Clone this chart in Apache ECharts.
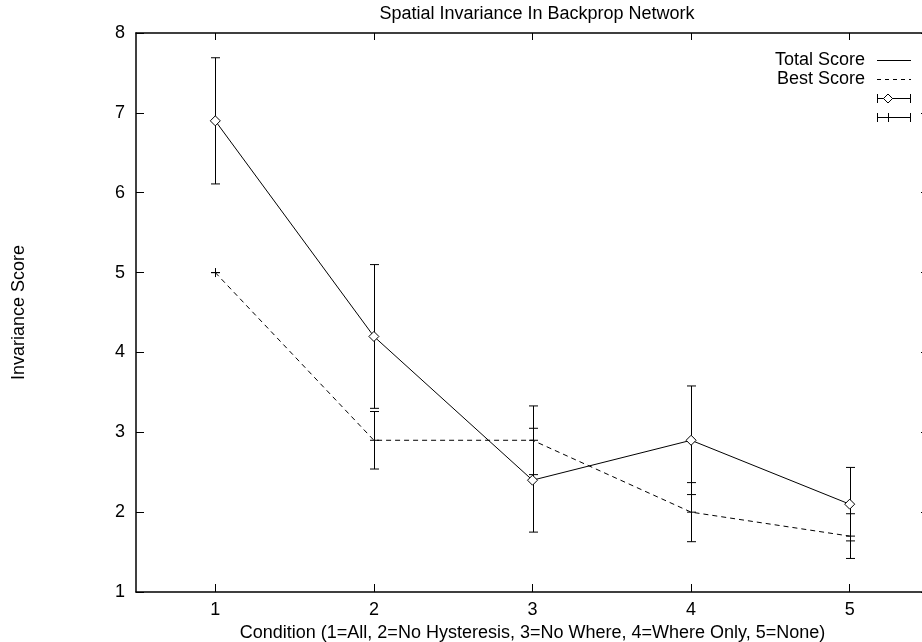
<!DOCTYPE html>
<html>
<head>
<meta charset="utf-8">
<script src="https://cdn.jsdelivr.net/npm/echarts@6/dist/echarts.min.js"></script>
<style>
  html, body { margin: 0; padding: 0; background: #fff; }
  #ErrorChartDom { width: 922px; height: 642px; }
</style>
</head>
<body>
<div id="ErrorChartDom"></div>
<script>
const conditions = ['1', '2', '3', '4', '5'];
const totalScore = [6.9, 4.2, 2.4, 2.9, 2.1];
const totalErr = [0.79, 0.9, 0.65, 0.68, 0.46];
const bestScore = [5.0, 2.9, 2.9, 2.0, 1.7];
const bestErr = [0, 0.36, 0.43, 0.37, 0.28];
const yTicks = [1, 2, 3, 4, 5, 6, 7, 8];

const font = "'Liberation Sans', Arial, Helvetica, sans-serif";

const errRows = (vals, errs) => vals.map((v, i) => [i, v - errs[i], v + errs[i], v]);

const renderErr = (withPlus) => (params, api) => {
  const hi = api.coord([api.value(0), api.value(2)]);
  const lo = api.coord([api.value(0), api.value(1)]);
  const mid = api.coord([api.value(0), api.value(3)]);
  const x = Math.round(hi[0]) + 0.5;
  const w = 4.5;
  const st = { stroke: '#000', lineWidth: 1 };
  const kids = [
    { type: 'line', shape: { x1: x, y1: hi[1], x2: x, y2: lo[1] }, style: st },
    { type: 'line', shape: { x1: x - w, y1: hi[1], x2: x + w, y2: hi[1] }, style: st },
    { type: 'line', shape: { x1: x - w, y1: lo[1], x2: x + w, y2: lo[1] }, style: st }
  ];
  if (withPlus) {
    kids.push({ type: 'line', shape: { x1: x - w, y1: mid[1], x2: x + w, y2: mid[1] }, style: st });
    kids.push({ type: 'line', shape: { x1: x, y1: mid[1] - w, x2: x, y2: mid[1] + w }, style: st });
  }
  return { type: 'group', children: kids };
};

// legend samples, gnuplot style (text left, sample right)
const lx1 = 877, lx2 = 911, lrow = [60, 79, 98, 117];
const legendGraphic = [
  { type: 'text', x: 865, y: lrow[0], style: { text: 'Total Score', font: '18px ' + font, fill: '#000', align: 'right', verticalAlign: 'middle' } },
  { type: 'line', shape: { x1: lx1, y1: lrow[0] + 0.5, x2: lx2, y2: lrow[0] + 0.5 }, style: { stroke: '#000', lineWidth: 1 } },
  { type: 'text', x: 865, y: lrow[1], style: { text: 'Best Score', font: '18px ' + font, fill: '#000', align: 'right', verticalAlign: 'middle' } },
  { type: 'line', shape: { x1: lx1, y1: lrow[1] + 0.5, x2: lx2, y2: lrow[1] + 0.5 }, style: { stroke: '#000', lineWidth: 1, lineDash: [4, 4] } },
  { type: 'line', shape: { x1: lx1, y1: lrow[2] + 0.5, x2: lx2, y2: lrow[2] + 0.5 }, style: { stroke: '#000', lineWidth: 1 } },
  { type: 'line', shape: { x1: lx1 + 0.5, y1: lrow[2] - 4, x2: lx1 + 0.5, y2: lrow[2] + 5 }, style: { stroke: '#000', lineWidth: 1 } },
  { type: 'line', shape: { x1: lx2 - 0.5, y1: lrow[2] - 4, x2: lx2 - 0.5, y2: lrow[2] + 5 }, style: { stroke: '#000', lineWidth: 1 } },
  { type: 'polygon', shape: { points: [[888, lrow[2] - 4], [892.5, lrow[2] + 0.5], [888, lrow[2] + 5], [883.5, lrow[2] + 0.5]] }, style: { fill: '#fff', stroke: '#000', lineWidth: 1 } },
  { type: 'line', shape: { x1: lx1, y1: lrow[3] + 0.5, x2: lx2, y2: lrow[3] + 0.5 }, style: { stroke: '#000', lineWidth: 1 } },
  { type: 'line', shape: { x1: lx1 + 0.5, y1: lrow[3] - 4, x2: lx1 + 0.5, y2: lrow[3] + 5 }, style: { stroke: '#000', lineWidth: 1 } },
  { type: 'line', shape: { x1: lx2 - 0.5, y1: lrow[3] - 4, x2: lx2 - 0.5, y2: lrow[3] + 5 }, style: { stroke: '#000', lineWidth: 1 } },
  { type: 'line', shape: { x1: 888.5, y1: lrow[3] - 4, x2: 888.5, y2: lrow[3] + 5 }, style: { stroke: '#000', lineWidth: 1 } }
];

const axisLineStyle = { show: true, lineStyle: { color: '#000', width: 1.5 } };

const option = {
  animation: false,
  backgroundColor: '#fff',
  textStyle: { fontFamily: font },
  title: {
    text: 'Spatial Invariance In Backprop Network',
    left: 532,
    top: 0,
    textAlign: 'center',
    textStyle: { fontFamily: font, fontSize: 18, fontWeight: 'normal', color: '#000' }
  },
  grid: { left: 136, top: 33, width: 793, height: 559, containLabel: false, outerBoundsMode: 'none' },
  xAxis: [
    {
      type: 'category',
      data: conditions,
      boundaryGap: true,
      position: 'bottom',
      axisLine: axisLineStyle,
      axisTick: { show: true, inside: true, length: 8, alignWithLabel: true, lineStyle: { color: '#000' } },
      axisLabel: { color: '#000', fontSize: 18, fontFamily: font, margin: 9 },
      splitLine: { show: false },
      name: 'Condition (1=All, 2=No Hysteresis, 3=No Where, 4=Where Only, 5=None)',
      nameLocation: 'middle',
      nameGap: 27,
      nameTextStyle: { color: '#000', fontSize: 18, fontFamily: font }
    },
    {
      type: 'category',
      data: conditions,
      boundaryGap: true,
      position: 'top',
      axisLine: axisLineStyle,
      axisTick: { show: true, inside: true, length: 7, alignWithLabel: true, lineStyle: { color: '#000' } },
      axisLabel: { show: false },
      splitLine: { show: false }
    }
  ],
  yAxis: [
    {
      type: 'value',
      min: yTicks[0],
      max: yTicks[yTicks.length - 1],
      interval: 1,
      position: 'left',
      axisLine: axisLineStyle,
      axisTick: { show: true, inside: true, length: 8, lineStyle: { color: '#000' } },
      axisLabel: { color: '#000', fontSize: 18, fontFamily: font, margin: 11 },
      splitLine: { show: false },
      name: 'Invariance Score',
      nameLocation: 'middle',
      nameGap: 108,
      nameRotate: 90,
      nameTextStyle: { color: '#000', fontSize: 18, fontFamily: font }
    },
    {
      type: 'value',
      min: yTicks[0],
      max: yTicks[yTicks.length - 1],
      interval: 1,
      position: 'right',
      axisLine: axisLineStyle,
      axisTick: { show: true, inside: true, length: 8, lineStyle: { color: '#000' } },
      axisLabel: { show: false },
      splitLine: { show: false }
    }
  ],
  graphic: legendGraphic,
  series: [
    {
      name: 'Total Score',
      type: 'line',
      data: totalScore,
      lineStyle: { color: '#000', width: 1 },
      itemStyle: { color: '#fff', borderColor: '#000', borderWidth: 1 },
      symbol: 'diamond',
      symbolSize: 10,
      z: 5
    },
    {
      name: 'Best Score',
      type: 'line',
      data: bestScore,
      lineStyle: { color: '#000', width: 1, type: [5, 4] },
      symbol: 'none',
      z: 3
    },
    {
      name: 'Total Err',
      type: 'custom',
      data: errRows(totalScore, totalErr),
      renderItem: renderErr(false),
      z: 4
    },
    {
      name: 'Best Err',
      type: 'custom',
      data: errRows(bestScore, bestErr),
      renderItem: renderErr(true),
      z: 4
    }
  ]
};

const myChart = echarts.init(document.getElementById('ErrorChartDom'));
myChart.setOption(option);
</script>
</body>
</html>
